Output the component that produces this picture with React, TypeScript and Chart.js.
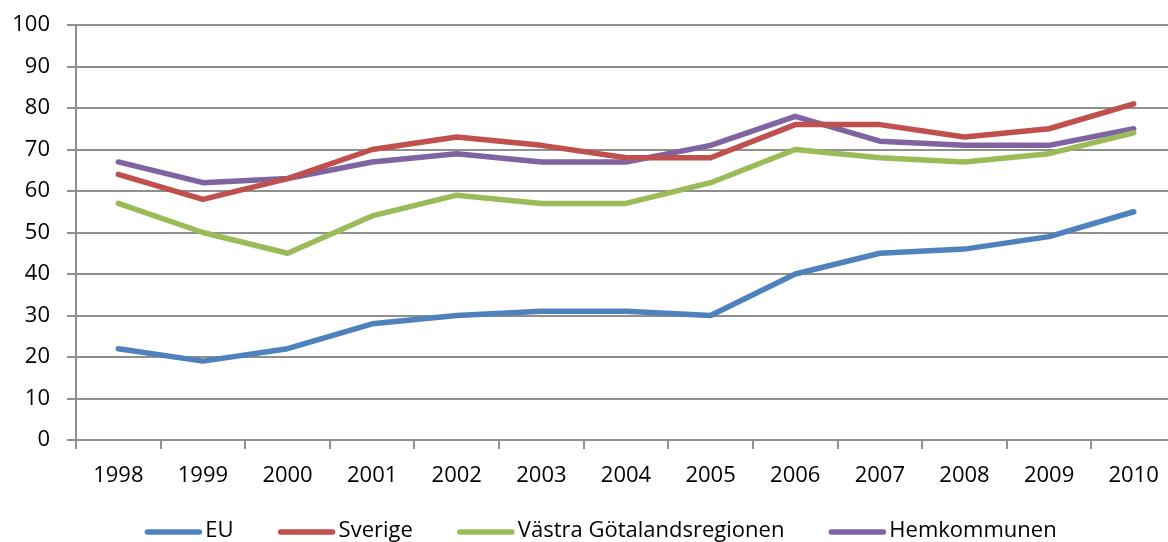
import React, { useEffect, useRef } from "react";
import { Chart, registerables } from "chart.js";

Chart.register(...registerables);

const categories = ["1998", "1999", "2000", "2001", "2002", "2003", "2004", "2005", "2006", "2007", "2008", "2009", "2010"];
const euValues = [22, 19, 22, 28, 30, 31, 31, 30, 40, 45, 46, 49, 55];
const sverigeValues = [64, 58, 63, 70, 73, 71, 68, 68, 76, 76, 73, 75, 81];
const vastraValues = [57, 50, 45, 54, 59, 57, 57, 62, 70, 68, 67, 69, 74];
const hemValues = [67, 62, 63, 67, 69, 67, 67, 71, 78, 72, 71, 71, 75];
const seriesLabels = ["EU", "Sverige", "Västra Götalandsregionen", "Hemkommunen"];
const seriesColors = ["#4F81BD", "#C0504D", "#9BBB59", "#8064A2"];
const yMin = 0;
const yMax = 100;
const yStep = 10;

const FONT = '"Open Sans", "Noto Sans", sans-serif';
const GRID = "#8f8f8f";

const legendPlugin = {
  id: "customLegend",
  afterDraw(chart: any) {
    const ctx = chart.ctx;
    ctx.save();
    ctx.font = `22px ${FONT}`;
    ctx.textBaseline = "middle";
    const lineLen = 56;
    const lineGap = 4;
    const itemGap = 45;
    const items = chart.data.datasets.map((d: any) => ({
      label: d.label,
      color: d.borderColor,
      w: ctx.measureText(d.label).width,
    }));
    const total = items.reduce((s: number, it: any) => s + lineLen + lineGap + it.w, 0) + itemGap * (items.length - 1);
    let x = 601 - total / 2;
    const y = 531;
    items.forEach((it: any) => {
      ctx.strokeStyle = it.color;
      ctx.lineWidth = 5.5;
      ctx.lineCap = "round";
      ctx.beginPath();
      ctx.moveTo(x + 2, y + 1);
      ctx.lineTo(x + lineLen - 2, y + 1);
      ctx.stroke();
      ctx.fillStyle = "#000";
      ctx.fillText(it.label, x + lineLen + lineGap, y);
      x += lineLen + lineGap + it.w + itemGap;
    });
    ctx.restore();
  },
};

export default function App() {
  const ref = useRef<HTMLCanvasElement | null>(null);
  useEffect(() => {
    if (!ref.current) return;
    const values = [euValues, sverigeValues, vastraValues, hemValues];
    const chart = new Chart(ref.current, {
      type: "line",
      data: {
        labels: categories,
        datasets: values.map((v, i) => ({
          label: seriesLabels[i],
          data: v,
          borderColor: seriesColors[i],
          backgroundColor: seriesColors[i],
          borderWidth: 5.5,
          pointRadius: 0,
          tension: 0,
          borderCapStyle: "round" as const,
          borderJoinStyle: "round" as const,
          fill: false,
        })),
      },
      options: {
        responsive: false,
        animation: false,
        layout: { padding: { top: 25, right: 4, left: 0, bottom: 0 } },
        plugins: { legend: { display: false }, tooltip: { enabled: false } },
        scales: {
          x: {
            type: "category",
            offset: true,
            afterFit: (s: any) => {
              s.height = 102;
            },
            grid: {
              drawOnChartArea: false,
              drawTicks: true,
              tickLength: 9,
              color: GRID,
              lineWidth: 2,
              offset: true,
            },
            border: { display: true, color: GRID, width: 2 },
            ticks: {
              color: "#000",
              font: { family: FONT, size: 22 },
              padding: 14,
              maxRotation: 0,
              autoSkip: false,
            },
          },
          y: {
            min: yMin,
            max: yMax,
            afterFit: (s: any) => {
              s.width = 76;
              s.paddingTop = 0;
              s.paddingBottom = 0;
            },
            grid: { color: GRID, lineWidth: 2, tickLength: 9, drawTicks: true },
            border: { display: true, color: GRID, width: 2 },
            ticks: {
              stepSize: yStep,
              color: "#000",
              font: { family: FONT, size: 22 },
              padding: 17,
            },
          },
        },
      },
      plugins: [legendPlugin],
    });
    return () => chart.destroy();
  }, []);
  return (
    <div style={{ position: "fixed", left: 0, top: 0, width: 1168, height: 542, overflow: "hidden", background: "#fff" }}>
      <canvas ref={ref} width={1180} height={542} style={{ display: "block" }} />
    </div>
  );
}
